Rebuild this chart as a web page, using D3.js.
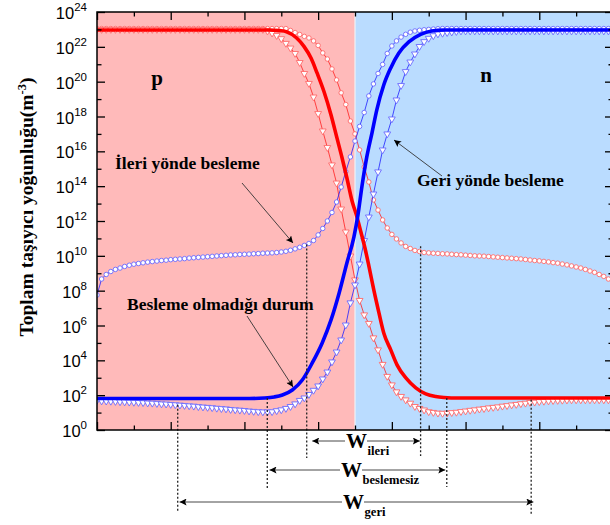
<!DOCTYPE html>
<html lang="tr">
<head>
<meta charset="utf-8">
<title>Toplam taşıyıcı yoğunluğu</title>
<script src="https://cdnjs.cloudflare.com/ajax/libs/d3/7.8.5/d3.min.js"></script>
<style>
body { margin: 0; background: #fff; }
svg { display: block; }
.serif { font-family: "Liberation Serif", "Times New Roman", serif; font-weight: bold; fill: #000; }
.sans { font-family: "Liberation Sans", Arial, sans-serif; fill: #000; }
.axis line { stroke: #000; stroke-width: 1.3; }
</style>
</head>
<body>
<div id="chart"></div>
<script>
// mesh positions across the junction (arbitrary units), junction at 7
var meshX = d3.range(113).map(function(i){ return i * 0.125; });

// log10 of carrier density (m^-3), one row = one mesh unit
// forward bias (circles)
var holesForward = [
  23.05, 23.05, 23.05, 23.05, 23.05, 23.05, 23.05, 23.05,
  23.05, 23.05, 23.05, 23.05, 23.05, 23.05, 23.05, 23.05,
  23.05, 23.05, 23.05, 23.05, 23.05, 23.05, 23.05, 23.05,
  23.05, 23.05, 23.05, 23.05, 23.05, 23.05, 23.05, 23.05,
  23.05, 23.05, 23.05, 23.05, 23.05, 23.05, 23.05, 23.05,
  23.05, 23.05, 22.94, 22.82, 22.71, 22.60, 22.51, 22.34,
  22.08, 21.65, 21.30, 20.73, 20.10, 19.36, 18.69, 17.74,
  17.00, 16.08, 15.10, 14.24, 13.21, 12.63, 12.06, 11.60,
  11.23, 10.97, 10.74, 10.54, 10.42, 10.31, 10.25, 10.19,
  10.17, 10.15, 10.14, 10.12, 10.11, 10.09, 10.07, 10.06,
  10.04, 10.02, 10.00, 9.99, 9.98, 9.96, 9.94, 9.92,
  9.90, 9.88, 9.86, 9.84, 9.82, 9.79, 9.76, 9.73,
  9.71, 9.68, 9.65, 9.61, 9.58, 9.53, 9.48, 9.42,
  9.36, 9.30, 9.22, 9.13, 9.05, 8.93, 8.82, 8.67,
  8.50
];
var electronsForward = [
  7.75, 8.67, 8.93, 9.10, 9.22, 9.30, 9.39, 9.46,
  9.52, 9.56, 9.60, 9.64, 9.67, 9.70, 9.73, 9.75,
  9.78, 9.80, 9.82, 9.84, 9.87, 9.89, 9.91, 9.93,
  9.95, 9.97, 9.99, 10.01, 10.03, 10.05, 10.06, 10.08,
  10.09, 10.10, 10.12, 10.13, 10.15, 10.16, 10.17, 10.19,
  10.22, 10.26, 10.32, 10.40, 10.49, 10.60, 10.71, 10.88,
  11.20, 11.57, 12.00, 12.49, 13.09, 13.95, 14.84, 15.68,
  16.59, 17.43, 18.23, 19.18, 19.87, 20.47, 20.99, 21.62,
  22.05, 22.34, 22.56, 22.72, 22.84, 22.91, 22.95, 22.98,
  23.00, 23.02, 23.04, 23.05, 23.05, 23.05, 23.05, 23.05,
  23.05, 23.05, 23.05, 23.05, 23.05, 23.05, 23.05, 23.05,
  23.05, 23.05, 23.05, 23.05, 23.05, 23.05, 23.05, 23.05,
  23.05, 23.05, 23.05, 23.05, 23.05, 23.05, 23.05, 23.05,
  23.05, 23.05, 23.05, 23.05, 23.05, 23.05, 23.05, 23.05,
  23.05
];
// reverse bias (triangles)
var holesReverse = [
  23.00, 23.00, 23.00, 23.00, 23.00, 23.00, 23.00, 23.00,
  23.00, 23.00, 23.00, 23.00, 23.00, 23.00, 23.00, 23.00,
  23.00, 23.00, 23.00, 23.00, 23.00, 23.00, 23.00, 23.00,
  23.00, 23.00, 23.00, 23.00, 23.00, 23.00, 23.00, 23.00,
  23.00, 23.00, 23.00, 23.00, 23.00, 22.91, 22.79, 22.65,
  22.47, 22.20, 21.93, 21.62, 21.10, 20.47, 19.90, 19.12,
  18.17, 17.17, 16.22, 15.22, 14.18, 12.69, 11.37, 9.99,
  8.62, 7.44, 6.61, 6.12, 5.29, 4.60, 3.77, 3.08,
  2.59, 2.19, 1.93, 1.73, 1.54, 1.35, 1.24, 1.15,
  1.05, 1.01, 0.97, 0.96, 0.97, 1.00, 1.02, 1.06,
  1.09, 1.13, 1.16, 1.20, 1.23, 1.27, 1.30, 1.33,
  1.37, 1.40, 1.44, 1.47, 1.51, 1.54, 1.58, 1.60,
  1.63, 1.65, 1.67, 1.69, 1.70, 1.71, 1.72, 1.73,
  1.73, 1.73, 1.73, 1.73, 1.73, 1.73, 1.73, 1.73,
  1.73
];
var electronsReverse = [
  1.70, 1.67, 1.66, 1.65, 1.64, 1.62, 1.61, 1.60,
  1.59, 1.58, 1.57, 1.55, 1.54, 1.52, 1.50, 1.49,
  1.47, 1.45, 1.43, 1.41, 1.39, 1.37, 1.34, 1.32,
  1.30, 1.28, 1.25, 1.23, 1.21, 1.18, 1.16, 1.14,
  1.12, 1.09, 1.07, 1.05, 1.04, 1.04, 1.05, 1.11,
  1.16, 1.24, 1.35, 1.50, 1.70, 1.84, 2.04, 2.28,
  2.53, 2.93, 3.33, 3.91, 4.48, 5.17, 6.03, 7.30,
  8.33, 9.53, 10.88, 12.23, 13.55, 14.82, 16.08, 17.00,
  17.86, 18.95, 19.78, 20.58, 21.13, 21.59, 22.02, 22.30,
  22.49, 22.64, 22.74, 22.78, 22.82, 22.85, 22.88, 22.91,
  22.91, 22.91, 22.91, 22.91, 22.91, 22.91, 22.91, 22.91,
  22.91, 22.91, 22.91, 22.91, 22.91, 22.91, 22.91, 22.91,
  22.91, 22.91, 22.91, 22.91, 22.91, 22.91, 22.91, 22.91,
  22.91, 22.91, 22.91, 22.91, 22.91, 22.91, 22.91, 22.91,
  22.91
];
// no bias (thick solid lines)
var holesZeroX = [0, 4.14, 4.68, 4.95, 5.14, 5.41, 5.62, 5.81, 5.97, 6.16, 6.35, 6.51, 6.65, 6.78, 6.92,
  7.03, 7.16, 7.27, 7.38, 7.51, 7.65, 7.78, 7.97, 8.14, 8.38, 8.65, 8.92, 9.19, 9.41, 9.81, 14];
var holesZero = [22.97, 22.97, 22.97, 22.93, 22.87, 22.52, 22.01, 21.34, 20.50, 19.42, 18.09, 16.77, 15.62, 14.47, 13.15,
  12.40, 11.37, 10.45, 9.38, 8.04, 6.72, 5.57, 4.60, 3.74, 2.99, 2.42, 2.07, 1.92, 1.87, 1.84, 1.84];
var electronsZeroX = [0, 4.14, 4.54, 4.81, 5.03, 5.30, 5.57, 5.84, 6.11, 6.35, 6.57, 6.78, 6.97, 7.08, 7.19,
  7.32, 7.46, 7.59, 7.78, 7.97, 8.19, 8.46, 8.78, 9.08, 9.41, 14];
var electronsZero = [1.81, 1.81, 1.84, 1.90, 2.01, 2.30, 2.87, 3.85, 5.00, 6.32, 7.87, 9.59, 11.08, 12.35, 14.01,
  15.68, 17.05, 18.37, 19.81, 20.79, 21.65, 22.28, 22.71, 22.91, 22.97, 22.97];

var junctionX = 7;
var yMajorExp = [0, 2, 4, 6, 8, 10, 12, 14, 16, 18, 20, 22, 24];
var yMinorExp = [1, 3, 5, 7, 9, 11, 13, 15, 17, 19, 21, 23];
var xMajorTicks = [0, 2, 4, 6, 8, 10, 12, 14];
var xMinorTicks = [1, 3, 5, 7, 9, 11, 13];

// depletion width markers: [x, log10 where the guide starts, guide bottom]
var guides = [[5.69, 10.65, 458], [4.62, 1.84, 489], [2.19, 1.45, 512],
              [8.78, 10.55, 456], [9.49, 1.84, 487], [11.78, 1.73, 515]];
var widths = [
  {name: "ileri", from: 5.84, to: 8.76, y: 441, wx: 346},
  {name: "beslemesiz", from: 4.68, to: 9.45, y: 470, wx: 341},
  {name: "geri", from: 2.24, to: 11.84, y: 502, wx: 343}
];

var width = 610, height = 525;
var mLeft = 97, mRight = 613, mTop = 12, mBottom = 430;

var x = d3.scaleLinear().domain([0, 14]).range([mLeft, mRight]);
var y = d3.scaleLog().domain([1, 1e24]).range([mBottom, mTop]);
function py(v){ return y(Math.pow(10, v)); }

var svg = d3.select("#chart").append("svg")
    .attr("width", width).attr("height", height);

var defs = svg.append("defs");
defs.append("clipPath").attr("id", "plot")
  .append("rect").attr("x", mLeft).attr("y", mTop).attr("width", mRight - mLeft).attr("height", mBottom - mTop);
defs.append("marker").attr("id", "arrow")
    .attr("viewBox", "0 0 10 10").attr("refX", 10).attr("refY", 5)
    .attr("markerUnits", "userSpaceOnUse").attr("markerWidth", 11).attr("markerHeight", 7)
    .attr("orient", "auto")
  .append("path").attr("d", "M0,0L10,5L0,10L2,5z").attr("fill", "#000");

var plot = svg.append("g").attr("clip-path", "url(#plot)");

// p and n regions
plot.append("rect").attr("x", mLeft).attr("y", mTop)
    .attr("width", x(junctionX) - mLeft).attr("height", mBottom - mTop).attr("fill", "#ffbaba");
plot.append("rect").attr("x", x(junctionX)).attr("y", mTop)
    .attr("width", mRight - x(junctionX)).attr("height", mBottom - mTop).attr("fill", "#badcff");
plot.append("line").attr("x1", x(junctionX)).attr("x2", x(junctionX)).attr("y1", mTop).attr("y2", mBottom)
    .attr("stroke", "#f2f2f6").attr("stroke-width", 1.2);

function drawMarked(vals, lineColor, markColor, tri){
  var pts = vals.map(function(v, i){ return [x(meshX[i]), py(v)]; });
  plot.append("path").attr("d", d3.line()(pts))
      .attr("fill", "none").attr("stroke", lineColor).attr("stroke-width", 0.8);
  var sym = d3.symbol().type(tri ? d3.symbolTriangle : d3.symbolCircle).size(tri ? 20 : 16);
  plot.append("g").selectAll("path").data(pts).enter().append("path")
      .attr("d", sym)
      .attr("transform", function(d){ return "translate(" + d[0] + "," + d[1] + ")" + (tri ? " rotate(180)" : ""); })
      .attr("fill", "#fff").attr("stroke", markColor).attr("stroke-width", 0.9);
}
drawMarked(holesForward, "#ff2020", "#ff6a6a", false);
drawMarked(holesReverse, "#ff2020", "#ff6a6a", true);
drawMarked(electronsForward, "#2020ff", "#6a6aff", false);
drawMarked(electronsReverse, "#2020ff", "#6a6aff", true);

var smooth = d3.line().curve(d3.curveMonotoneX);
plot.append("path")
    .attr("d", smooth(holesZeroX.map(function(d, i){ return [x(d), py(holesZero[i])]; })))
    .attr("fill", "none").attr("stroke", "#ff0000").attr("stroke-width", 3.6);
plot.append("path")
    .attr("d", smooth(electronsZeroX.map(function(d, i){ return [x(d), py(electronsZero[i])]; })))
    .attr("fill", "none").attr("stroke", "#0000ff").attr("stroke-width", 3.6);

// dashed guides for the depletion edges
svg.append("g").selectAll("line").data(guides).enter().append("line")
    .attr("x1", function(d){ return x(d[0]); }).attr("x2", function(d){ return x(d[0]); })
    .attr("y1", function(d){ return py(d[1]); }).attr("y2", function(d){ return d[2]; })
    .attr("stroke", "#222").attr("stroke-width", 1.3).attr("stroke-dasharray", "2,2");

// width arrows with labels
widths.forEach(function(w){
  var g = svg.append("g");
  var W = g.append("text").attr("class", "serif").attr("x", w.wx).attr("y", w.y + 7)
      .style("font-size", "21px").text("W");
  var wLen = W.node().getComputedTextLength();
  g.append("text").attr("class", "serif").attr("x", w.wx + wLen + 0.5).attr("y", w.y + 14)
      .style("font-size", "12.6px").text(w.name);
  g.append("line").attr("x1", w.wx - 1).attr("x2", x(w.from)).attr("y1", w.y).attr("y2", w.y)
      .attr("stroke", "#333").attr("stroke-width", 0.9).attr("marker-end", "url(#arrow)");
  g.append("line").attr("x1", w.wx + wLen).attr("x2", x(w.to)).attr("y1", w.y).attr("y2", w.y)
      .attr("stroke", "#333").attr("stroke-width", 0.9).attr("marker-end", "url(#arrow)");
});

// region and curve labels
svg.append("text").attr("class", "serif").attr("x", 157).attr("y", 85)
    .attr("text-anchor", "middle").style("font-size", "21px").text("p");
svg.append("text").attr("class", "serif").attr("x", 486).attr("y", 82)
    .attr("text-anchor", "middle").style("font-size", "21px").text("n");
svg.append("text").attr("class", "serif").attr("x", 115).attr("y", 169)
    .style("font-size", "17.5px").text("İleri yönde besleme");
svg.append("text").attr("class", "serif").attr("x", 417).attr("y", 186)
    .style("font-size", "17.5px").text("Geri yönde besleme");
svg.append("text").attr("class", "serif").attr("x", 127).attr("y", 310)
    .style("font-size", "17.5px").text("Besleme olmadığı durum");

var pointers = [[242, 183, 293, 243], [247, 316, 293, 387], [442, 176, 394, 140]];
svg.append("g").selectAll("line").data(pointers).enter().append("line")
    .attr("x1", function(d){ return d[0]; }).attr("y1", function(d){ return d[1]; })
    .attr("x2", function(d){ return d[2]; }).attr("y2", function(d){ return d[3]; })
    .attr("stroke", "#333").attr("stroke-width", 0.9).attr("marker-end", "url(#arrow)");

// axes: ticks point inward
function ticks(axis, tr){
  svg.append("g").attr("class", "axis").attr("transform", tr).call(axis)
     .call(function(g){ g.select(".domain").remove(); g.selectAll("text").remove(); });
}
function pow10(e){ return Math.pow(10, e); }
ticks(d3.axisLeft(y).tickValues(yMajorExp.map(pow10)).tickSize(-8), "translate(" + mLeft + ",0)");
ticks(d3.axisLeft(y).tickValues(yMinorExp.map(pow10)).tickSize(-4.5), "translate(" + mLeft + ",0)");
ticks(d3.axisRight(y).tickValues(yMajorExp.map(pow10)).tickSize(-8), "translate(" + mRight + ",0)");
ticks(d3.axisRight(y).tickValues(yMinorExp.map(pow10)).tickSize(-4.5), "translate(" + mRight + ",0)");
ticks(d3.axisBottom(x).tickValues(xMajorTicks).tickSize(-8), "translate(0," + mBottom + ")");
ticks(d3.axisBottom(x).tickValues(xMinorTicks).tickSize(-4.5), "translate(0," + mBottom + ")");
ticks(d3.axisTop(x).tickValues(xMajorTicks).tickSize(-8), "translate(0," + mTop + ")");
ticks(d3.axisTop(x).tickValues(xMinorTicks).tickSize(-4.5), "translate(0," + mTop + ")");

svg.append("rect").attr("x", mLeft).attr("y", mTop).attr("width", mRight - mLeft).attr("height", mBottom - mTop)
    .attr("fill", "none").attr("stroke", "#000").attr("stroke-width", 1.5);

// y tick labels 10^n
var labels = svg.append("g").selectAll("text").data(yMajorExp).enter().append("text")
    .attr("class", "sans").attr("text-anchor", "end")
    .attr("x", 87).attr("y", function(e){ return py(e) + 7; })
    .style("font-size", "16.5px");
labels.append("tspan").text("10");
labels.append("tspan").attr("dy", -8).style("font-size", "11.5px").text(function(e){ return e; });

// y axis title
var title = svg.append("text").attr("class", "serif")
    .attr("transform", "translate(33,207) rotate(-90)")
    .attr("text-anchor", "middle").style("font-size", "19.5px");
title.append("tspan").text("Toplam taşıyıcı yoğunluğu(m");
title.append("tspan").attr("dy", -7).style("font-size", "12.5px").text("-3");
title.append("tspan").attr("dy", 7).text(")");
</script>
</body>
</html>
